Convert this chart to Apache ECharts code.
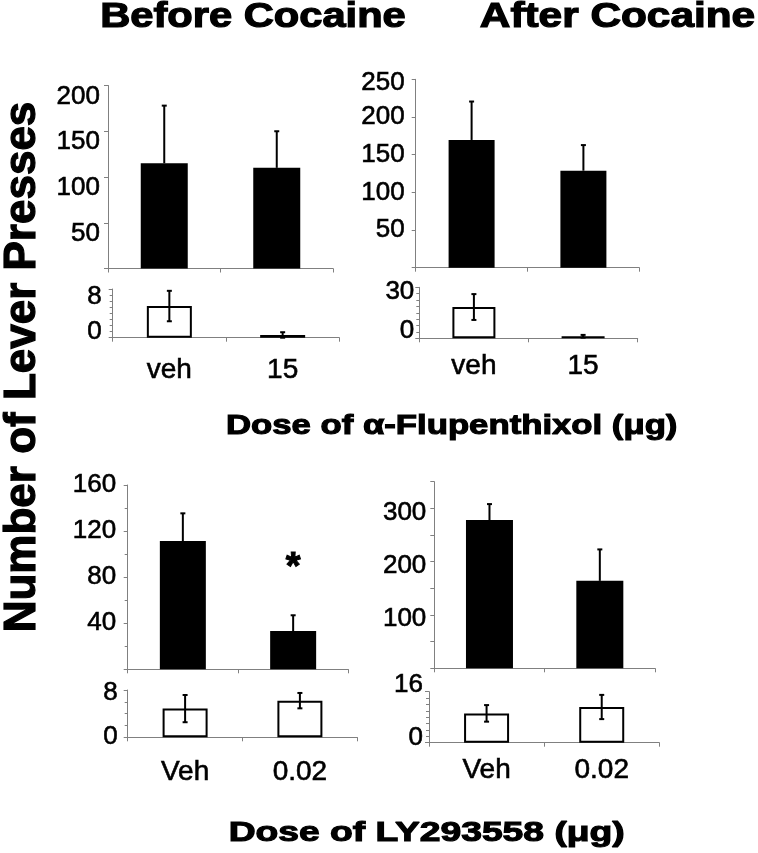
<!DOCTYPE html>
<html><head><meta charset="utf-8">
<script src="https://cdn.jsdelivr.net/npm/echarts@6.0.0/dist/echarts.min.js"></script>
<style>html,body{margin:0;padding:0;background:#fff}#c{width:758px;height:853px}</style>
</head><body><div id="c"></div>
<script>
// ---- categories ----
const catsFlu = ['veh', '15'];
const catsLY = ['Veh', '0.02'];

// ---- alpha-flupenthixol, before cocaine ----
const fluBeforeActive = [115, 110];
const fluBeforeActiveSem = [63, 40];
const fluBeforeInactive = [5.2, 0.45];
const fluBeforeInactiveSem = [2.5, 0.45];
// ---- alpha-flupenthixol, after cocaine ----
const fluAfterActive = [169.5, 128.7];
const fluAfterActiveSem = [51, 34];
const fluAfterInactive = [18.4, 1.2];
const fluAfterInactiveSem = [7.6, 0.8];
// ---- LY293558, before cocaine ----
const lyBeforeActive = [111.4, 33.2];
const lyBeforeActiveSem = [24, 13.7];
const lyBeforeInactive = [4.85, 6.2];
const lyBeforeInactiveSem = [2.3, 1.3];
// ---- LY293558, after cocaine ----
const lyAfterActive = [278, 164];
const lyAfterActiveSem = [30, 59];
const lyAfterInactive = [9.2, 11.2];
const lyAfterInactiveSem = [2.6, 3.8];
const lySignificance = ['', '*'];

// ---- tick labels ----
const ticksFluBeforeActive = [50, 100, 150, 200];
const ticksFluBeforeInactive = [0, 8];
const ticksFluAfterActive = [50, 100, 150, 200, 250];
const ticksFluAfterInactive = [0, 30];
const ticksLyBeforeActive = [40, 80, 120, 160];
const ticksLyBeforeInactive = [0, 8];
const ticksLyAfterActive = [100, 200, 300];
const ticksLyAfterInactive = [0, 16];

const FONT = '"Liberation Sans", Arial, sans-serif';
const AXIS_COLOR = '#808080';
const TICK_FS = 26;
const CAT_FS = 28;

const panels = [
  {grid:{left:108, top:85.5, width:225, height:183}, cats:catsFlu, vals:fluBeforeActive, sem:fluBeforeActiveSem,
   max:200, interval:50, ticks:ticksFluBeforeActive, shift:{all:11}, margin:8, white:false, barWidth:47},
  {grid:{left:112.7, top:289, width:226.6, height:48.7}, cats:catsFlu, vals:fluBeforeInactive, sem:fluBeforeInactiveSem,
   max:8, interval:8, ticks:ticksFluBeforeInactive, shift:{8:7.5, 0:-6}, margin:11, white:true, barWidth:45, minor:8, xLabels:true, xMargin:19},
  {grid:{left:415.7, top:79.3, width:223.6, height:188.4}, cats:catsFlu, vals:fluAfterActive, sem:fluAfterActiveSem,
   max:250, interval:50, ticks:ticksFluAfterActive, shift:{250:4}, margin:11, white:false, barWidth:46},
  {grid:{left:419.3, top:287.3, width:218.4, height:51}, cats:catsFlu, vals:fluAfterInactive, sem:fluAfterInactiveSem,
   max:30, interval:30, ticks:ticksFluAfterInactive, shift:{30:4.4, 0:-7.3}, margin:5, white:true, barWidth:43, minor:8, xLabels:true, xMargin:14},
  {grid:{left:127.7, top:485, width:220.6, height:184.3}, cats:catsLY, vals:lyBeforeActive, sem:lyBeforeActiveSem,
   max:160, interval:40, ticks:ticksLyBeforeActive, shift:{}, margin:11.5, white:false, barWidth:46, minor:2, marks:lySignificance},
  {grid:{left:127.7, top:690, width:229.6, height:47.3}, cats:catsLY, vals:lyBeforeInactive, sem:lyBeforeInactiveSem,
   max:8, interval:8, ticks:ticksLyBeforeInactive, shift:{8:3.3, 0:-0.6}, margin:10, white:true, barWidth:45, minor:4, xLabels:true, xMargin:21},
  {grid:{left:434.3, top:481.7, width:220.7, height:186.6}, cats:catsLY, vals:lyAfterActive, sem:lyAfterActiveSem,
   max:350, interval:50, ticks:ticksLyAfterActive, shift:{all:4}, margin:8, white:false, barWidth:47},
  {grid:{left:429, top:691.7, width:230.3, height:51}, cats:catsLY, vals:lyAfterInactive, sem:lyAfterInactiveSem,
   max:16, interval:16, ticks:ticksLyAfterInactive, shift:{16:-6.7, 0:-4.4}, margin:6, white:true, barWidth:45, minor:8, xLabels:true, xMargin:14}
];

function yAxisFor(p, i) {
  const rich = {};
  const fmt = function (v) {
    if (!p.ticks.includes(v)) return '';
    const s = (p.shift[v] !== undefined) ? p.shift[v] : (p.shift.all || 0);
    const key = 'k' + String(v).replace('.', '_');
    rich[key] = {fontSize:TICK_FS, fontFamily:FONT, color:'#000', textBorderColor:'#000', textBorderWidth:0.6,
      padding: s >= 0 ? [2 * s, 0, 0, 0] : [0, 0, -2 * s, 0]};
    return '{' + key + '|' + v + '}';
  };
  p.ticks.forEach(fmt);
  return {
    type:'value', gridIndex:i, min:0, max:p.max, interval:p.interval,
    axisLine:{show:true, lineStyle:{color:AXIS_COLOR, width:1}},
    axisTick:{show:true, length:4, lineStyle:{color:AXIS_COLOR, width:1}},
    minorTick:{show:!!p.minor, splitNumber:p.minor || 5, length:3, lineStyle:{color:AXIS_COLOR, width:1}},
    splitLine:{show:false},
    axisLabel:{show:true, formatter:fmt, rich:rich, margin:p.margin, fontSize:TICK_FS, fontFamily:FONT, color:'#000',
      showMinLabel:true, showMaxLabel:true}
  };
}

function xAxisFor(p, i) {
  return {
    type:'category', gridIndex:i, data:p.cats, boundaryGap:true,
    axisLine:{show:true, onZero:false, lineStyle:{color:AXIS_COLOR, width:1}},
    axisTick:{show:true, length:4, lineStyle:{color:AXIS_COLOR, width:1}},
    axisLabel:{show:!!p.xLabels, fontSize:CAT_FS, fontFamily:FONT, color:'#000', margin:p.xMargin || 10,
      textBorderColor:'#000', textBorderWidth:0.6}
  };
}

function errorBarRender(twoSided, marks) {
  return function (params, api) {
    const idx = api.value(0), m = api.value(1), e = api.value(2);
    const top = api.coord([idx, m + e]);
    const bot = api.coord([idx, twoSided ? m - e : m]);
    const hw = 2.5;
    const st = {stroke:'#000', lineWidth:2};
    const ch = [
      {type:'line', shape:{x1:top[0], y1:top[1], x2:bot[0], y2:bot[1]}, style:st},
      {type:'line', shape:{x1:top[0] - hw, y1:top[1], x2:top[0] + hw, y2:top[1]}, style:st}
    ];
    if (twoSided) ch.push({type:'line', shape:{x1:bot[0] - hw, y1:bot[1], x2:bot[0] + hw, y2:bot[1]}, style:st});
    if (marks && marks[params.dataIndex]) {
      ch.push({type:'text', style:{text:marks[params.dataIndex], x:top[0], y:top[1] - 47,
        align:'center', verticalAlign:'middle', font:'bold 38px ' + FONT, fill:'#000', stroke:'#000', lineWidth:1}});
    }
    return {type:'group', children:ch};
  };
}

const series = [];
panels.forEach(function (p, i) {
  series.push({
    type:'bar', xAxisIndex:i, yAxisIndex:i, data:p.vals, barWidth:p.barWidth,
    itemStyle: p.white ? {color:'#fff', borderColor:'#000', borderWidth:2} : {color:'#000'},
    silent:true, animation:false, z:2
  });
  series.push({
    type:'custom', xAxisIndex:i, yAxisIndex:i,
    data:p.vals.map(function (v, k) { return [k, v, p.sem[k]]; }),
    renderItem:errorBarRender(p.white, p.marks), silent:true, animation:false, z:5
  });
});

const textStyle = function (size, sw) {
  return {fill:'#000', stroke:'#000', lineWidth:sw, font:'bold ' + size + 'px ' + FONT, align:'center', verticalAlign:'middle'};
};

const option = {
  backgroundColor:'#fff',
  animation:false,
  grid:panels.map(function (p) { return Object.assign({containLabel:false}, p.grid); }),
  xAxis:panels.map(xAxisFor),
  yAxis:panels.map(yAxisFor),
  series:series,
  graphic:[
    {type:'text', x:253, y:17, scaleX:1.19, style:Object.assign({text:'Before Cocaine'}, textStyle(35, 1.2))},
    {type:'text', x:617.5, y:17, scaleX:1.21, style:Object.assign({text:'After Cocaine'}, textStyle(35, 1.2))},
    {type:'text', x:451.7, y:426, scaleX:1.24, style:Object.assign({text:'Dose of \u03b1-Flupenthixol (\u03bcg)'}, textStyle(28, 1.1))},
    {type:'text', x:426.7, y:833, scaleX:1.33, style:Object.assign({text:'Dose of LY293558 (\u03bcg)'}, textStyle(28, 1.1))},
    {type:'text', x:23, y:367, rotation:Math.PI / 2, style:Object.assign({text:'Number of Lever Presses'}, textStyle(44, 1.2))}
  ]
};

const chart = echarts.init(document.getElementById('c'), null, {renderer:'canvas'});
chart.setOption(option);
</script>
</body></html>
